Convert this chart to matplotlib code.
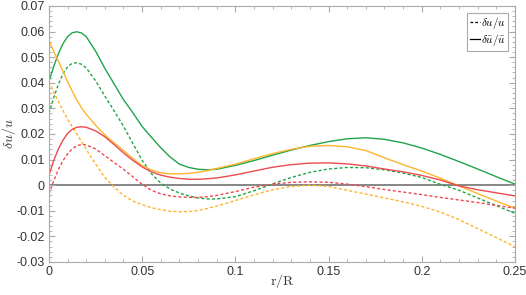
import numpy as np
import matplotlib
matplotlib.use("Agg")
import matplotlib.pyplot as plt
from matplotlib.ticker import MultipleLocator
from matplotlib.lines import Line2D

plt.rcParams.update({'font.size': 9, 'font.family': 'Liberation Sans',
                     'mathtext.fontset': 'cm'})

# r/R sample positions
r = [0, 0.0025, 0.005, 0.0075, 0.01, 0.0125, 0.015, 0.0175, 0.02, 0.025,
     0.03, 0.035, 0.04, 0.045, 0.05, 0.055, 0.06, 0.065, 0.07, 0.075, 0.08,
     0.085, 0.09, 0.10, 0.11, 0.12, 0.13, 0.14, 0.15, 0.16, 0.17, 0.18, 0.19,
     0.20, 0.21, 0.22, 0.23, 0.24, 0.25]

green_bar = [0.0404, 0.0462, 0.0512, 0.0552, 0.0580, 0.0595, 0.0599, 0.0594,
             0.0580, 0.0524, 0.0456, 0.0395, 0.0334, 0.0283, 0.0229, 0.0187,
             0.0146, 0.0110, 0.0082, 0.0069, 0.0062, 0.0060, 0.0062, 0.0077,
             0.0096, 0.0117, 0.0137, 0.0155, 0.0170, 0.0181, 0.0185, 0.0179,
             0.0165, 0.0145, 0.0120, 0.0092, 0.0063, 0.0033, 0.0004]
green_u = [0.0280, 0.0340, 0.0392, 0.0435, 0.0462, 0.0476, 0.0478, 0.0472,
           0.0458, 0.0408, 0.0348, 0.0290, 0.0230, 0.0163, 0.0097, 0.0045,
           0.0008, -0.0015, -0.0031, -0.0042, -0.0050, -0.0054, -0.0054,
           -0.0045, -0.0022, 0.0005, 0.0030, 0.0050, 0.0063, 0.0069, 0.0068,
           0.0060, 0.0047, 0.0030, 0.0003, -0.0020, -0.0050, -0.0080, -0.0110]
orange_bar = [0.0564, 0.0524, 0.0485, 0.0445, 0.0405, 0.0367, 0.0332, 0.0302,
              0.0277, 0.0234, 0.0196, 0.0165, 0.0135, 0.0104, 0.0077, 0.0059,
              0.0048, 0.0044, 0.0044, 0.0046, 0.0050, 0.0057, 0.0065, 0.0082,
              0.0103, 0.0123, 0.0140, 0.0152, 0.0155, 0.0150, 0.0135, 0.0107,
              0.0080, 0.0055, 0.0027, -0.0003, -0.0033, -0.0062, -0.0090]
orange_u = [0.0404, 0.0365, 0.0328, 0.0292, 0.0258, 0.0228, 0.0200, 0.0170,
            0.0140, 0.0083, 0.0030, -0.0008, -0.0040, -0.0062, -0.0076,
            -0.0088, -0.0096, -0.0102, -0.0104, -0.0103, -0.0099, -0.0091,
            -0.0082, -0.0060, -0.0038, -0.0018, -0.0005, 0.0000, -0.0005,
            -0.0020, -0.0035, -0.0050, -0.0065, -0.0083, -0.0105, -0.0135,
            -0.0170, -0.0205, -0.0240]
red_bar = [0.0038, 0.0095, 0.0140, 0.0175, 0.0202, 0.0218, 0.0226, 0.0228,
           0.0226, 0.0212, 0.0189, 0.0158, 0.0126, 0.0097, 0.0071, 0.0052,
           0.0039, 0.0031, 0.0026, 0.0023, 0.0023, 0.0025, 0.0028, 0.0040,
           0.0055, 0.0070, 0.0080, 0.0086, 0.0087, 0.0083, 0.0075, 0.0063,
           0.0052, 0.0038, 0.0020, -0.0003, -0.0018, -0.0030, -0.0042]
red_u = [-0.0035, 0.0015, 0.0060, 0.0095, 0.0122, 0.0142, 0.0154, 0.0159,
         0.0157, 0.0142, 0.0115, 0.0088, 0.0062, 0.0033, 0.0003, -0.0020,
         -0.0034, -0.0042, -0.0046, -0.0048, -0.0048, -0.0045, -0.0040,
         -0.0025, -0.0008, 0.0004, 0.0011, 0.0013, 0.0011, 0.0004, -0.0006,
         -0.0017, -0.0027, -0.0037, -0.0048, -0.0058, -0.0068, -0.0079, -0.0090]

green = '#1fa549'
orange = '#ffb42c'
red = '#ee4a4f'
dash = (0, (2.2, 1.6))

fig = plt.figure(figsize=(5.26, 2.95), dpi=100)
ax = fig.add_axes([0.093, 0.112, 0.886, 0.868])

ax.axhline(0, color='#666666', lw=1.1, zorder=1)

for col, ys, yd in [(green, green_bar, green_u), (orange, orange_bar, orange_u),
                    (red, red_bar, red_u)]:
    ax.plot(r, ys, color=col, lw=1.0)
    ax.plot(r, yd, color=col, lw=1.0, linestyle=dash)

ax.set_xlim(0, 0.25)
ax.set_ylim(-0.03, 0.07)
ax.set_xticks([0, 0.05, 0.1, 0.15, 0.2, 0.25])
ax.set_xticklabels(['0', '0.05', '0.1', '0.15', '0.2', '0.25'])
ax.set_yticks(np.arange(-0.03, 0.0701, 0.01))
ax.set_yticklabels(['-0.03', '-0.02', '-0.01', '0', '0.01', '0.02', '0.03',
                    '0.04', '0.05', '0.06', '0.07'])
ax.xaxis.set_minor_locator(MultipleLocator(0.01))
ax.yaxis.set_minor_locator(MultipleLocator(0.002))
ax.tick_params(which='both', direction='in', top=True, right=True,
               color='#aaaaaa')
ax.tick_params(which='major', length=4, labelcolor='#333333', pad=3)
ax.tick_params(which='minor', length=2)
for s in ax.spines.values():
    s.set_color('#aaaaaa')

# axis titles placed as figure text so they stay inside the small canvas
fig.text(0.537, 0.035, r'$\mathrm{r/R}$', fontsize=10, ha='center',
         va='baseline', color='#333333')
fig.text(0.017, 0.546, r'$\delta u/u$', fontsize=10, ha='center',
         va='center', rotation=90, color='#333333')

handles = [Line2D([], [], color='black', lw=0.9, linestyle=dash),
           Line2D([], [], color='black', lw=0.9)]
leg = ax.legend(handles, [r'$\delta u/u$', r'$\delta\bar{u}/\bar{u}$'],
                loc='upper right', fontsize=8, handlelength=0.9,
                handletextpad=0.1, borderpad=0.25, labelspacing=0.05,
                borderaxespad=0.6, fancybox=False, framealpha=1)
leg.get_frame().set_edgecolor('#aaaaaa')
leg.get_frame().set_linewidth(0.8)

fig.savefig('out.png', dpi=100)
